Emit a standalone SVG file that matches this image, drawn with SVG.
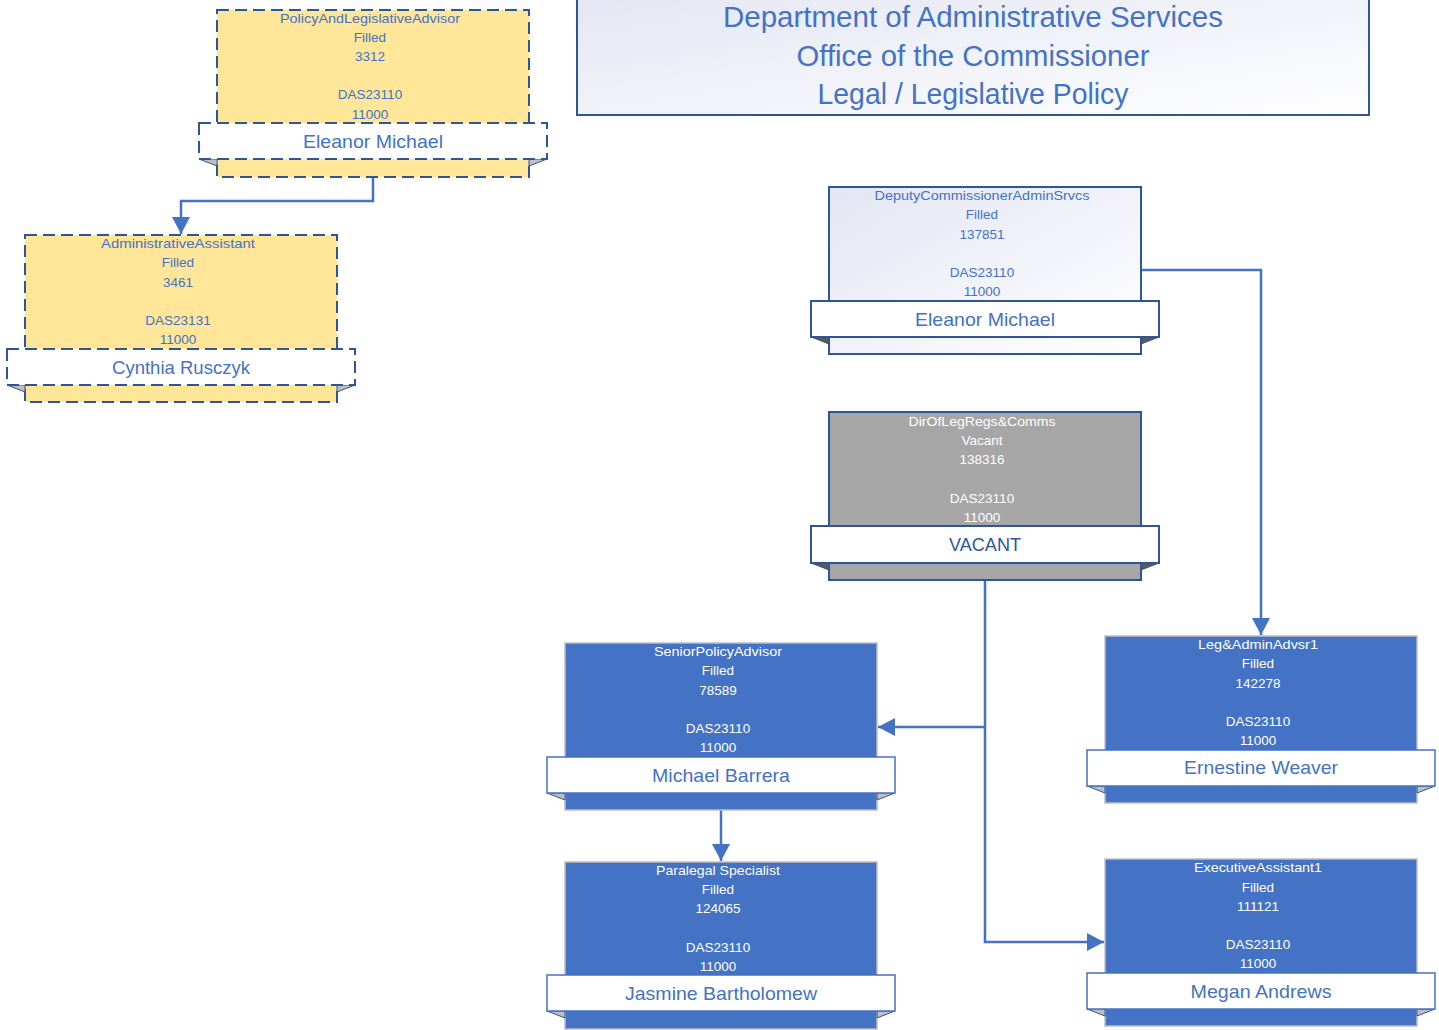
<svg xmlns="http://www.w3.org/2000/svg" width="1439" height="1030" viewBox="0 0 1439 1030">
<defs>
<linearGradient id="lav" x1="0" y1="0" x2="1" y2="1"><stop offset="0" stop-color="#E3E6F3"/><stop offset="1" stop-color="#FFFFFF"/></linearGradient>
<marker id="arr" markerUnits="userSpaceOnUse" markerWidth="18" markerHeight="18" refX="17" refY="9" orient="auto"><path d="M0,0 L17,9 L0,18 z" fill="#4472C4"/></marker>
<style>
text{font-family:"Liberation Sans",Arial,sans-serif;text-anchor:middle}
.t{font-size:29px;fill:#4472C4}
.r{font-size:13.5px;fill:#4472C4}
.w{font-size:13.5px;fill:#FFFFFF}
.nm{font-size:19px;fill:#4472C4}
.vac{font-size:19px;fill:#2F5597}
.yel{fill:#FFE699;stroke:#2F5597;stroke-width:2;stroke-dasharray:12 6}
.ybn{fill:#FFFFFF;stroke:#2F5597;stroke-width:2;stroke-dasharray:12 6}
.dep{fill:url(#lav);stroke:#2F5597;stroke-width:2}
.gry{fill:#A6A6A6;stroke:#2F5597;stroke-width:2}
.blu{fill:#4472C4;stroke:#BFBFBF;stroke-width:1.5}
.bn{fill:#FFFFFF;stroke:#2F5597;stroke-width:2}
.bbn{fill:#FFFFFF;stroke:#4472C4;stroke-width:1.5}
.fold{fill:#BFBFBF;stroke:#2F5597;stroke-width:1}
.dfold{fill:#595959;stroke:#2F5597;stroke-width:1}
.c{fill:none;stroke:#4472C4;stroke-width:2.5}
</style>
</defs>
<rect width="1439" height="1030" fill="#FFFFFF"/>

<g id="title">
<rect x="577" y="-10" width="792" height="125" fill="url(#lav)" stroke="#2F5597" stroke-width="2"/>
<text class="t" x="973" y="27" textLength="500" lengthAdjust="spacingAndGlyphs">Department of Administrative Services</text>
<text class="t" x="973" y="66" textLength="353" lengthAdjust="spacingAndGlyphs">Office of the Commissioner</text>
<text class="t" x="973" y="104" textLength="311" lengthAdjust="spacingAndGlyphs">Legal / Legislative Policy</text>
</g>

<g id="connectors">
<path class="c" d="M373,177 V201 H181 V234" marker-end="url(#arr)"/>
<path class="c" d="M1141,270 H1261 V635" marker-end="url(#arr)"/>
<path class="c" d="M985,580 V942 H1104" marker-end="url(#arr)"/>
<path class="c" d="M985,727 H878" marker-end="url(#arr)"/>
<path class="c" d="M721,810 V861" marker-end="url(#arr)"/>
</g>

<g id="n-policy-advisor">
<rect class="yel" x="217" y="10" width="312" height="167"/>
<polygon class="fold" points="199,159 217,159 217,166"/>
<polygon class="fold" points="547,159 529,159 529,166"/>
<rect class="ybn" x="199" y="123" width="348" height="36"/>
<text class="r" x="370" y="23" textLength="180" lengthAdjust="spacingAndGlyphs">PolicyAndLegislativeAdvisor</text>
<text class="r" x="370" y="42">Filled</text>
<text class="r" x="370" y="61">3312</text>
<text class="r" x="370" y="99">DAS23110</text>
<text class="r" x="370" y="119">11000</text>
<text class="nm" x="373" y="148" textLength="140" lengthAdjust="spacingAndGlyphs">Eleanor Michael</text>
</g>

<g id="n-admin-assistant">
<rect class="yel" x="25" y="235" width="312" height="167"/>
<polygon class="fold" points="7,385 25,385 25,392"/>
<polygon class="fold" points="355,385 337,385 337,392"/>
<rect class="ybn" x="7" y="349" width="348" height="36"/>
<text class="r" x="178" y="248" textLength="154" lengthAdjust="spacingAndGlyphs">AdministrativeAssistant</text>
<text class="r" x="178" y="267">Filled</text>
<text class="r" x="178" y="287">3461</text>
<text class="r" x="178" y="325">DAS23131</text>
<text class="r" x="178" y="344">11000</text>
<text class="nm" x="181" y="374" textLength="138" lengthAdjust="spacingAndGlyphs">Cynthia Rusczyk</text>
</g>

<g id="n-deputy">
<rect class="dep" x="829" y="187" width="312" height="167"/>
<polygon class="dfold" points="811,337 829,337 829,344"/>
<polygon class="dfold" points="1159,337 1141,337 1141,344"/>
<rect class="bn" x="811" y="301" width="348" height="36"/>
<text class="r" x="982" y="200" textLength="215" lengthAdjust="spacingAndGlyphs">DeputyCommissionerAdminSrvcs</text>
<text class="r" x="982" y="219">Filled</text>
<text class="r" x="982" y="239">137851</text>
<text class="r" x="982" y="277">DAS23110</text>
<text class="r" x="982" y="296">11000</text>
<text class="nm" x="985" y="326" textLength="140" lengthAdjust="spacingAndGlyphs">Eleanor Michael</text>
</g>

<g id="n-director">
<rect class="gry" x="829" y="412" width="312" height="168"/>
<polygon class="dfold" points="811,563 829,563 829,570"/>
<polygon class="dfold" points="1159,563 1141,563 1141,570"/>
<rect class="bn" x="811" y="526" width="348" height="37"/>
<text class="w" x="982" y="426" textLength="147" lengthAdjust="spacingAndGlyphs">DirOfLegRegs&amp;Comms</text>
<text class="w" x="982" y="445">Vacant</text>
<text class="w" x="982" y="464">138316</text>
<text class="w" x="982" y="503">DAS23110</text>
<text class="w" x="982" y="522">11000</text>
<text class="vac" x="985" y="551" textLength="72" lengthAdjust="spacingAndGlyphs">VACANT</text>
</g>

<g id="n-senior-policy">
<rect class="blu" x="565" y="643" width="312" height="167"/>
<polygon class="fold" points="547,793 565,793 565,800"/>
<polygon class="fold" points="895,793 877,793 877,800"/>
<rect class="bbn" x="547" y="757" width="348" height="36"/>
<text class="w" x="718" y="656" textLength="128" lengthAdjust="spacingAndGlyphs">SeniorPolicyAdvisor</text>
<text class="w" x="718" y="675">Filled</text>
<text class="w" x="718" y="695">78589</text>
<text class="w" x="718" y="733">DAS23110</text>
<text class="w" x="718" y="752">11000</text>
<text class="nm" x="721" y="782" textLength="138" lengthAdjust="spacingAndGlyphs">Michael Barrera</text>
</g>

<g id="n-paralegal">
<rect class="blu" x="565" y="862" width="312" height="167"/>
<polygon class="fold" points="547,1011 565,1011 565,1018"/>
<polygon class="fold" points="895,1011 877,1011 877,1018"/>
<rect class="bbn" x="547" y="975" width="348" height="36"/>
<text class="w" x="718" y="875" textLength="124" lengthAdjust="spacingAndGlyphs">Paralegal Specialist</text>
<text class="w" x="718" y="894">Filled</text>
<text class="w" x="718" y="913">124065</text>
<text class="w" x="718" y="952">DAS23110</text>
<text class="w" x="718" y="971">11000</text>
<text class="nm" x="721" y="1000" textLength="192" lengthAdjust="spacingAndGlyphs">Jasmine Bartholomew</text>
</g>

<g id="n-leg-admin">
<rect class="blu" x="1105" y="636" width="312" height="167"/>
<polygon class="fold" points="1087,786 1105,786 1105,793"/>
<polygon class="fold" points="1435,786 1417,786 1417,793"/>
<rect class="bbn" x="1087" y="750" width="348" height="36"/>
<text class="w" x="1258" y="649" textLength="120" lengthAdjust="spacingAndGlyphs">Leg&amp;AdminAdvsr1</text>
<text class="w" x="1258" y="668">Filled</text>
<text class="w" x="1258" y="688">142278</text>
<text class="w" x="1258" y="726">DAS23110</text>
<text class="w" x="1258" y="745">11000</text>
<text class="nm" x="1261" y="774" textLength="154" lengthAdjust="spacingAndGlyphs">Ernestine Weaver</text>
</g>

<g id="n-exec-assistant">
<rect class="blu" x="1105" y="859" width="312" height="167"/>
<polygon class="fold" points="1087,1009 1105,1009 1105,1016"/>
<polygon class="fold" points="1435,1009 1417,1009 1417,1016"/>
<rect class="bbn" x="1087" y="973" width="348" height="36"/>
<text class="w" x="1258" y="872" textLength="128" lengthAdjust="spacingAndGlyphs">ExecutiveAssistant1</text>
<text class="w" x="1258" y="892">Filled</text>
<text class="w" x="1258" y="911">111121</text>
<text class="w" x="1258" y="949">DAS23110</text>
<text class="w" x="1258" y="968">11000</text>
<text class="nm" x="1261" y="998" textLength="141" lengthAdjust="spacingAndGlyphs">Megan Andrews</text>
</g>
</svg>
